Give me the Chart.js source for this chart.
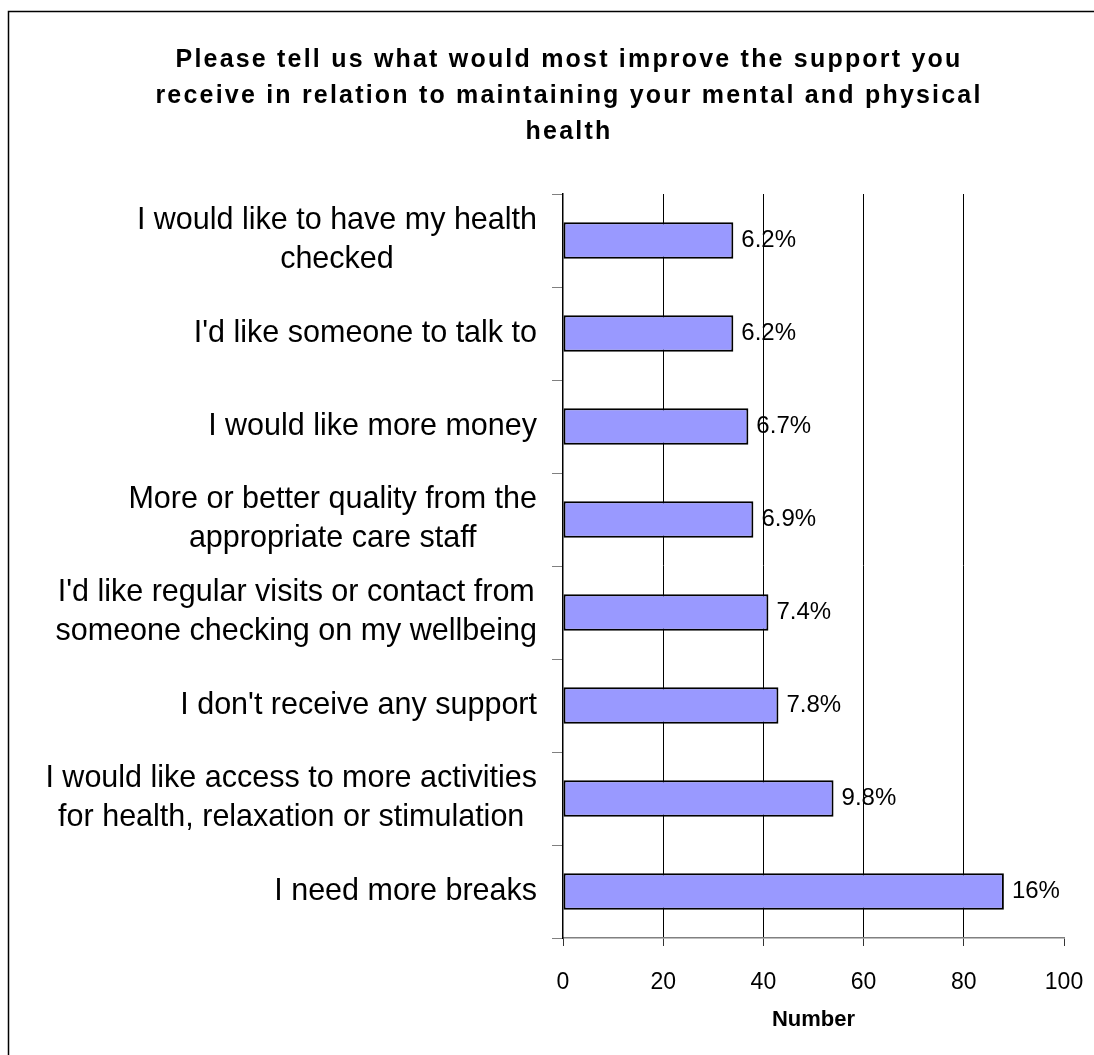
<!DOCTYPE html>
<html>
<head>
<meta charset="utf-8">
<title>Support for mental and physical health</title>
<script src="https://cdn.jsdelivr.net/npm/chart.js@4.4.1/dist/chart.umd.min.js"></script>
<style>
  html, body { margin: 0; padding: 0; background: #fff; }
  canvas { display: block; }
</style>
</head>
<body>
<canvas id="chart" width="1094" height="1055"></canvas>
<script>
const titleLines = [
  "Please tell us what would most improve the support you",
  "receive in relation to maintaining your mental and physical",
  "health"
];

// Answers, top to bottom; long ones split where they wrap
const answers = [
  ["I would like to have my health", "checked"],
  ["I'd like someone to talk to"],
  ["I would like more money"],
  ["More or better quality from the", "appropriate care staff"],
  ["I'd like regular visits or contact from", "someone checking on my wellbeing"],
  ["I don't receive any support"],
  ["I would like access to more activities", "for health, relaxation or stimulation"],
  ["I need more breaks"]
];
const counts = [34, 34, 37, 38, 41, 43, 54, 88];
const shares = ["6.2%", "6.2%", "6.7%", "6.9%", "7.4%", "7.8%", "9.8%", "16%"];
const numberTicks = [0, 20, 40, 60, 80, 100];

const FONT = "'Liberation Sans', Arial, sans-serif";

// Frame round the whole chart
const framePlugin = {
  id: "frame",
  beforeDraw(chart) {
    const ctx = chart.ctx;
    ctx.save();
    ctx.fillStyle = "#fff";
    ctx.fillRect(0, 0, chart.width, chart.height);
    ctx.strokeStyle = "#000";
    ctx.lineWidth = 1.5;
    ctx.strokeRect(8.5, 11.5, chart.width + 50, chart.height + 50);
    ctx.restore();
  }
};

// Bold title with the wide letter spacing
const titlePlugin = {
  id: "spacedTitle",
  afterDraw(chart) {
    const ctx = chart.ctx;
    ctx.save();
    ctx.font = "bold 25px " + FONT;
    ctx.letterSpacing = "2.2px";
    ctx.fillStyle = "#000";
    ctx.textAlign = "center";
    ctx.textBaseline = "middle";
    titleLines.forEach((line, i) => ctx.fillText(line, 569, 60 + i * 36));
    ctx.restore();
  }
};

// Category labels: block sits against the axis, lines centred inside it
const answerLabels = {
  id: "answerLabels",
  afterDraw(chart) {
    const ctx = chart.ctx;
    const y = chart.scales.y;
    ctx.save();
    ctx.font = "30.5px " + FONT;
    ctx.fillStyle = "#000";
    ctx.textAlign = "center";
    ctx.textBaseline = "middle";
    const right = chart.chartArea.left - 26;
    answers.forEach((lines, i) => {
      const yc = y.getPixelForTick(i);
      const w = Math.max(...lines.map(l => ctx.measureText(l).width));
      const cx = right - w / 2;
      lines.forEach((l, j) => {
        ctx.fillText(l, cx, yc + (j - (lines.length - 1) / 2) * 39);
      });
    });
    ctx.restore();
  }
};

// Percentage at the end of each bar
const shareLabels = {
  id: "shareLabels",
  afterDatasetsDraw(chart) {
    const ctx = chart.ctx;
    const meta = chart.getDatasetMeta(0);
    ctx.save();
    ctx.font = "24px " + FONT;
    ctx.fillStyle = "#000";
    ctx.textAlign = "left";
    ctx.textBaseline = "middle";
    meta.data.forEach((bar, i) => ctx.fillText(shares[i], bar.x + 8, bar.y));
    ctx.restore();
  }
};

const ctx = document.getElementById("chart").getContext("2d");
new Chart(ctx, {
  type: "bar",
  data: {
    labels: answers.map(a => a.join(" ")),
    datasets: [{
      data: counts,
      backgroundColor: "#9999FF",
      borderColor: "#000",
      borderWidth: 2,
      borderSkipped: false,
      categoryPercentage: 1,
      barPercentage: 0.39
    }]
  },
  options: {
    indexAxis: "y",
    responsive: false,
    animation: false,
    devicePixelRatio: 1,
    layout: { padding: { top: 194, right: 30, bottom: 0, left: 0 } },
    plugins: {
      legend: { display: false },
      title: { display: false },
      tooltip: { enabled: false }
    },
    scales: {
      x: {
        min: 0,
        max: 100,
        afterBuildTicks: s => { s.ticks = numberTicks.map(v => ({ value: v })); },
        afterFit: s => {
          s.height = 117;
          s.paddingLeft = 0;
          s.paddingRight = 0;
        },
        grid: {
          color: c => (c.tick && (c.tick.value === 0 || c.tick.value === 100)) ? "rgba(0,0,0,0)" : "#000",
          lineWidth: 1,
          tickColor: "#333",
          tickLength: 8
        },
        border: { color: "#808080", width: 1.5 },
        ticks: {
          color: "#000",
          padding: 23,
          font: { family: FONT, size: 23 }
        },
        title: {
          display: true,
          text: "Number",
          color: "#000",
          font: { family: FONT, size: 22, weight: "bold" },
          padding: { top: 0, bottom: 22 }
        }
      },
      y: {
        afterFit: s => { s.width = 563; },
        grid: {
          offset: true,
          drawOnChartArea: false,
          tickColor: "#808080",
          tickLength: 11
        },
        border: { color: "#000", width: 1.5 },
        ticks: { display: false }
      }
    }
  },
  plugins: [framePlugin, titlePlugin, answerLabels, shareLabels]
});
</script>
</body>
</html>
